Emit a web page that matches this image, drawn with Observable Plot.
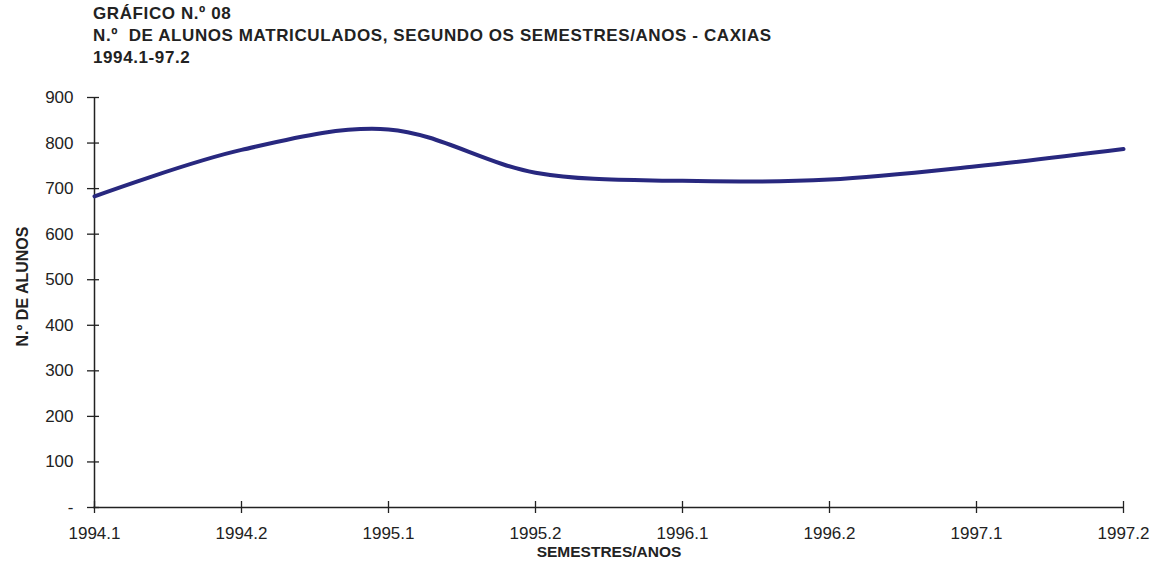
<!DOCTYPE html>
<html>
<head>
<meta charset="utf-8">
<script src="https://cdn.jsdelivr.net/npm/d3@7"></script>
<script src="https://cdn.jsdelivr.net/npm/@observablehq/plot@0.6"></script>
<style>
  body { margin: 0; background: #fff; font-family: "Liberation Sans", Arial, sans-serif; }
  #wrap { position: relative; width: 1153px; height: 561px; }
  #title { position: absolute; left: 93px; top: 3px; font-weight: bold; font-size: 17px; line-height: 22px; color: #222; letter-spacing: 0.6px; white-space: nowrap; }
  #chart { position: absolute; left: 0; top: 70px; }
</style>
</head>
<body>
<div id="wrap">
  <div id="title">
    <div>GRÁFICO N.º 08</div>
    <div>N.º&nbsp; DE ALUNOS MATRICULADOS, SEGUNDO OS SEMESTRES/ANOS - CAXIAS</div>
    <div>1994.1-97.2</div>
  </div>
  <div id="chart"></div>
</div>
<script>
const semesters = ["1994.1", "1994.2", "1995.1", "1995.2", "1996.1", "1996.2", "1997.1", "1997.2"];
const alunos = [683, 785, 830, 735, 717, 720, 749, 787];
const yTicks = [0, 100, 200, 300, 400, 500, 600, 700, 800, 900];
const xLabel = "SEMESTRES/ANOS";
const yLabel = "N.º DE ALUNOS";

const data = semesters.map((s, i) => ({ sem: s, n: alunos[i] }));
const ink = "#222";

const plot = Plot.plot({
  width: 1153,
  height: 491,
  marginLeft: 93,
  marginRight: 29,
  marginTop: 27,
  marginBottom: 54,
  style: { fontFamily: "'Liberation Sans', Arial, sans-serif", fontSize: "17px", color: ink, background: "#fff" },
  x: { type: "point", domain: semesters, padding: 0 },
  y: { domain: [0, 900] },
  marks: [
    Plot.axisY({ ticks: yTicks, tickSize: 12, dx: 6, tickPadding: 14, stroke: ink, strokeWidth: 1.3, fill: ink,
                 tickFormat: d => d === 0 ? "-" : String(d), label: null, fontSize: 17 }),
    Plot.axisX({ tickSize: 12, dy: -6, tickPadding: 13, stroke: ink, strokeWidth: 1.3, fill: ink, label: null, fontSize: 17 }),
    Plot.ruleY([0], { stroke: ink, strokeWidth: 1.5 }),
    Plot.ruleX([semesters[0]], { y1: 0, y2: 900, stroke: ink, strokeWidth: 1.5 }),
    Plot.line(data, { x: "sem", y: "n", curve: "catmull-rom", stroke: "#28287f", strokeWidth: 4, strokeLinecap: "round" }),
    Plot.text([xLabel], { frameAnchor: "bottom", dy: 49, fontWeight: "bold", fontSize: 15.5, fill: ink, lineAnchor: "bottom" }),
    Plot.text([yLabel], { frameAnchor: "left", textAnchor: "middle", dx: -71, dy: -16, rotate: -90, fontWeight: "bold", fontSize: 16, fill: ink })
  ]
});
document.getElementById("chart").appendChild(plot);
</script>
</body>
</html>
